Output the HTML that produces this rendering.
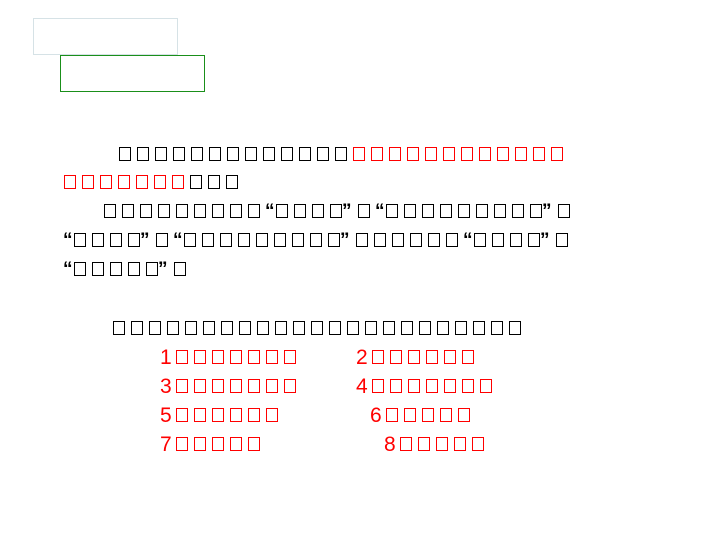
<!DOCTYPE html>
<html><head><meta charset="utf-8"><style>
body{margin:0;width:720px;height:540px;background:#fff;position:relative;overflow:hidden;font-family:"Liberation Sans","Noto Sans CJK SC",sans-serif}
.bx{position:absolute;width:10px;height:12px;border:1.4px solid #000;box-sizing:content-box}
.bx.r{border-color:#f00}
.q{position:absolute;font-size:19px;line-height:19px;color:#000;font-weight:bold}
.d{position:absolute;font-size:21px;line-height:21px;color:#f00}
</style></head><body>
<div style="position:absolute;left:33px;top:18px;width:143px;height:35px;border:1px solid #d6e2e6"></div>
<div style="position:absolute;left:60px;top:55px;width:143px;height:35px;border:1px solid #1a8f1a"></div>
<div id="c"></div>
<script>
const c=document.getElementById('c');
function row(x,y,seq,pitch){
  pitch=pitch||18;
  for(const ch of seq){
    if(ch==='b'||ch==='r'){
      const s=document.createElement('span');
      s.className='bx'+(ch==='r'?' r':'');
      
      
      s.style.left=Math.round(x)+'px';s.style.top=y+'px';
      c.appendChild(s);x+=pitch;
    }else{
      const s=document.createElement('span');
      s.className='q';s.textContent=ch;
      
      
      s.style.left=Math.round(ch==='“'?x-1:x-6)+'px';s.style.top=(y-2)+'px';
      c.appendChild(s);x+=10;
    }
  }
}
function num(x,y,n,k){
  const s=document.createElement('span');
  s.className='d';s.textContent=n;
  
  
  s.style.left=x+'px';s.style.top=(y-3)+'px';c.appendChild(s);
  row(x+16,y,'r'.repeat(k),18);
}
row(119,147,'b'.repeat(13)+'r'.repeat(12));
row(64,175,'r'.repeat(7)+'bbb');
row(104,204,'b'.repeat(9)+'“bbbb”b“'+'b'.repeat(9)+'”b');
row(64,233,'“bbbb”b“'+'b'.repeat(9)+'”'+'b'.repeat(6)+'“bbbb”b');
row(64,262,'“bbbbb”b');
row(113,321,'b'.repeat(23),18);
num(160,350,'1',7);num(356,350,'2',6);
num(160,379,'3',7);num(356,379,'4',7);
num(160,408,'5',6);num(370,408,'6',5);
num(160,437,'7',5);num(384,437,'8',5);
</script>
</body></html>
